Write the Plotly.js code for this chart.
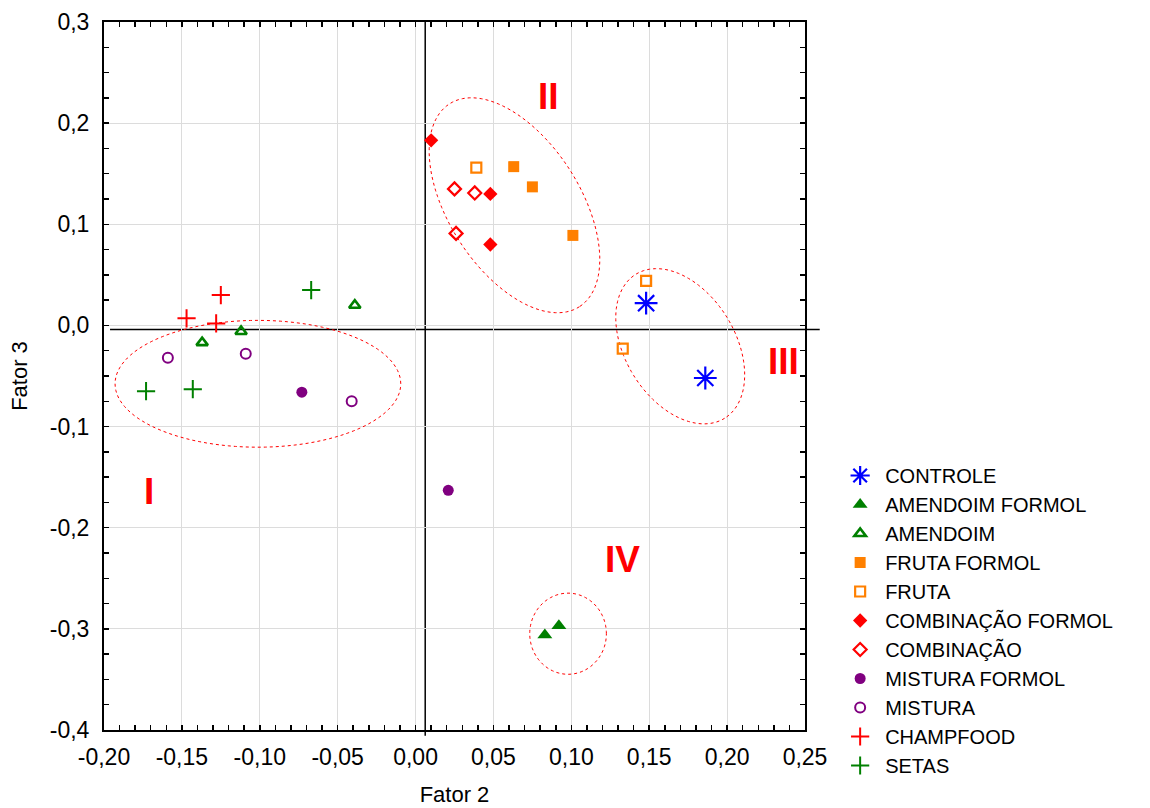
<!DOCTYPE html>
<html>
<head>
<meta charset="utf-8">
<script src="https://cdn.plot.ly/plotly-3.0.1.min.js"></script>
<style>html,body{margin:0;padding:0;background:#fff;}</style>
</head>
<body>
<div id="chart" style="width:1150px;height:808px;"></div>
<script>
// ---- data (Fator 2 = x, Fator 3 = y) ----
const categories = ['CONTROLE','AMENDOIM FORMOL','AMENDOIM','FRUTA FORMOL','FRUTA',
  'COMBINAÇÃO FORMOL','COMBINAÇÃO','MISTURA FORMOL','MISTURA','CHAMPFOOD','SETAS'];

const controleX = [0.148, 0.186];           const controleY = [0.022, -0.052];
const amendoimFormolX = [0.083, 0.092];     const amendoimFormolY = [-0.306, -0.297];
const amendoimX = [-0.039, -0.137, -0.112]; const amendoimY = [0.020, -0.017, -0.006];
const frutaFormolX = [0.063, 0.075, 0.101]; const frutaFormolY = [0.157, 0.137, 0.089];
const frutaX = [0.039, 0.148, 0.133];       const frutaY = [0.156, 0.044, -0.023];
const combFormolX = [0.010, 0.048, 0.048];  const combFormolY = [0.183, 0.130, 0.080];
const combX = [0.025, 0.038, 0.026];        const combY = [0.135, 0.131, 0.091];
const misturaFormolX = [-0.073, 0.021];     const misturaFormolY = [-0.066, -0.163];
const misturaX = [-0.159, -0.109, -0.041];  const misturaY = [-0.032, -0.028, -0.075];
const champX = [-0.125, -0.147, -0.128];    const champY = [0.030, 0.007, 0.002];
const setasX = [-0.067, -0.173, -0.143];    const setasY = [0.035, -0.065, -0.063];

const xTickVals = [-0.20,-0.15,-0.10,-0.05,0.00,0.05,0.10,0.15,0.20,0.25];
const xTickText = ['-0,20','-0,15','-0,10','-0,05','0,00','0,05','0,10','0,15','0,20','0,25'];
const yTickVals = [-0.4,-0.3,-0.2,-0.1,0.0,0.1,0.2,0.3];
const yTickText = ['-0,4','-0,3','-0,2','-0,1','0,0','0,1','0,2','0,3'];

// group labels and their positions
const groupLabels = ['I','II','III','IV'];
const groupLabelX = [-0.171, 0.0855, 0.236, 0.133];
const groupLabelY = [-0.164, 0.226, -0.036, -0.231];

// cluster ellipses: centre and two semi-axis vectors (data units)
const ellCX = [-0.1012, 0.0635, 0.1699, 0.0979];
const ellCY = [-0.0577, 0.1188, -0.0206, -0.3048];
const ellUX = [0.0917, 0.0417, 0.0285, 0.0246];
const ellUY = [0.0, -0.1003, -0.0712, 0.0];
const ellVX = [0.0, -0.0355, -0.0300, 0.0];
const ellVY = [0.0627, -0.0351, -0.0286, 0.0401];

const FONT = 'Liberation Sans, Arial, sans-serif';

const specs = [
  [controleX, controleY, 'asterisk-open', '#0000ff', 19, 2.2],
  [amendoimFormolX, amendoimFormolY, 'triangle-up', '#008000', 13, 0],
  [amendoimX, amendoimY, 'triangle-up-open', '#008000', 10, 2.6],
  [frutaFormolX, frutaFormolY, 'square', '#ff8000', 11, 0],
  [frutaX, frutaY, 'square-open', '#ff8000', 10, 2.2],
  [combFormolX, combFormolY, 'diamond', '#ff0000', 11, 0],
  [combX, combY, 'diamond-open', '#ff0000', 10, 2.2],
  [misturaFormolX, misturaFormolY, 'circle', '#800080', 11, 0],
  [misturaX, misturaY, 'circle-open', '#800080', 10, 2],
  [champX, champY, 'cross-thin-open', '#ff0000', 13, 2],
  [setasX, setasY, 'cross-thin-open', '#008000', 13, 2]
];

const traces = specs.map((s, i) => ({
  type: 'scatter', mode: 'markers', name: categories[i],
  x: s[0], y: s[1], cliponaxis: false,
  marker: { symbol: s[2], color: s[3], size: s[4],
            line: { color: s[3], width: s[5] } }
}));

function ellipsePath(k) {
  const n = 120; let p = '';
  for (let j = 0; j <= n; j++) {
    const t = 2 * Math.PI * j / n;
    const x = ellCX[k] + ellUX[k] * Math.cos(t) + ellVX[k] * Math.sin(t);
    const y = ellCY[k] + ellUY[k] * Math.cos(t) + ellVY[k] * Math.sin(t);
    p += (j === 0 ? 'M' : 'L') + x.toFixed(5) + ',' + y.toFixed(5);
  }
  return p + 'Z';
}

const shapes = [];
for (let k = 0; k < ellCX.length; k++) {
  shapes.push({ type: 'path', path: ellipsePath(k), xref: 'x', yref: 'y', layer: 'between',
    line: { color: '#ff0000', width: 1, dash: 'dot' } });
}
// reference axes through the origin region
shapes.push({ type: 'line', xref: 'x', yref: 'paper', x0: 0.0062, x1: 0.0062, y0: -0.008, y1: 1,
  line: { color: '#000', width: 1.5 }, layer: 'between' });
shapes.push({ type: 'line', xref: 'paper', yref: 'y', x0: 0.0086, x1: 1.021, y0: -0.004, y1: -0.004,
  line: { color: '#000', width: 1.5 }, layer: 'between' });

const annotations = groupLabels.map((t, i) => ({
  x: groupLabelX[i], y: groupLabelY[i], xref: 'x', yref: 'y', text: '<b>' + t + '</b>',
  showarrow: false, font: { family: FONT, size: 37, color: '#ff0000' }
}));

const axisCommon = {
  showline: true, linecolor: '#000', linewidth: 2, mirror: 'allticks',
  ticks: 'inside', ticklen: 5, tickwidth: 1.5, tickcolor: '#000',
  showgrid: true, gridcolor: '#dcdcdc', gridwidth: 1, zeroline: false,
  tickfont: { family: FONT, size: 23, color: '#000' }, tickmode: 'array'
};

const layout = {
  width: 1150, height: 808,
  margin: { l: 104, r: 345, t: 22, b: 78 },
  paper_bgcolor: '#fff', plot_bgcolor: '#fff',
  font: { family: FONT, color: '#000' },
  xaxis: Object.assign({}, axisCommon, {
    range: [-0.2, 0.25], tickvals: xTickVals, ticktext: xTickText,
    ticklabelstandoff: 5,
    minor: { dtick: 0.01, tick0: 0, ticks: 'inside', ticklen: 5, tickwidth: 1.5, tickcolor: '#000', showgrid: false },
    title: { text: 'Fator 2', font: { family: FONT, size: 22 }, standoff: 18 }
  }),
  yaxis: Object.assign({}, axisCommon, {
    range: [-0.4, 0.3], tickvals: yTickVals, ticktext: yTickText,
    ticklabelstandoff: 8,
    minor: { dtick: 0.025, tick0: 0, ticks: 'inside', ticklen: 5, tickwidth: 1.5, tickcolor: '#000', showgrid: false },
    title: { text: 'Fator 3', font: { family: FONT, size: 22 }, standoff: 16 }
  }),
  showlegend: true,
  legend: { x: 1.043, y: 0.387, xanchor: 'left', yanchor: 'top', itemwidth: 40,
    font: { family: FONT, size: 20, color: '#000' }, bgcolor: 'rgba(0,0,0,0)',
    traceorder: 'normal', itemclick: false },
  shapes: shapes,
  annotations: annotations
};

Plotly.newPlot('chart', traces, layout, { displayModeBar: false, staticPlot: true });
</script>
</body>
</html>
